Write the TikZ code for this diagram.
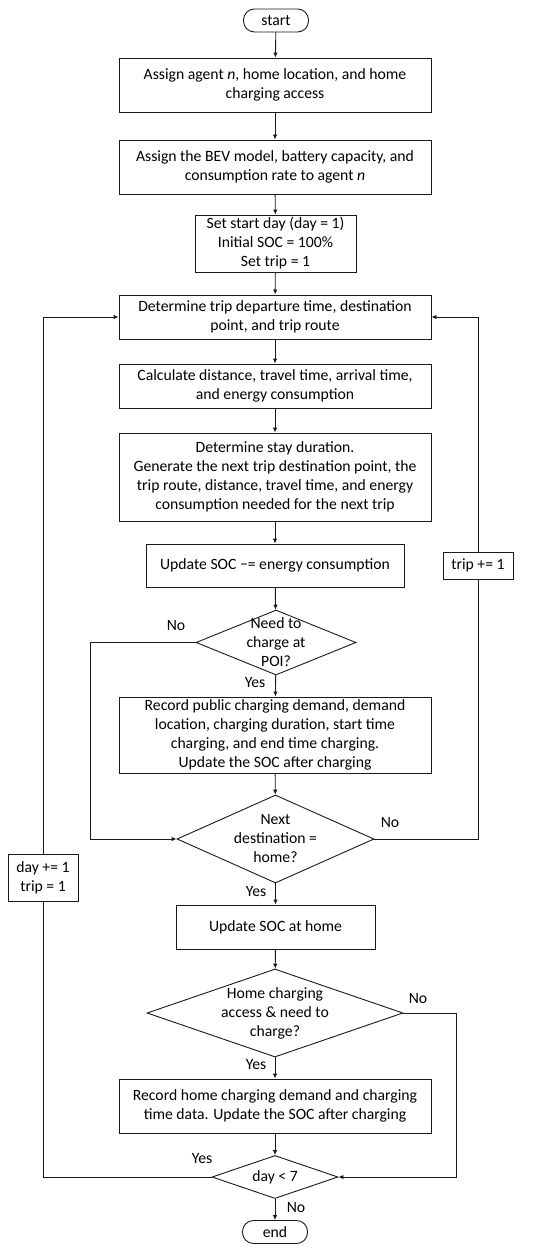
\documentclass[tikz,border=0pt]{standalone}
\usepackage{fontspec}
\setmainfont{Carlito}
\usepackage{xcolor}
\definecolor{FlowBlack}{HTML}{1A1A1A}
\definecolor{FlowWhite}{HTML}{FFFFFF}
\usetikzlibrary{shapes.geometric,arrows.meta,positioning}
\tikzset{
    % Base node style
    basenode/.style={
        draw=FlowBlack,
        fill=FlowWhite,
        line width=0.9pt,
        align=center,
        inner sep=1pt,
        font=\fontsize{15.7}{19}\selectfont
    },
    % Start / end terminal
    termnode/.style={
        basenode,
        rounded corners=11pt,
        minimum width=65pt,
        minimum height=23pt
    },
    % Wide process box
    widebox/.style={
        basenode,
        minimum width=312pt
    },
    % Decision diamond (text set as centre label)
    decisionnode/.style={
        draw=FlowBlack,
        fill=FlowWhite,
        line width=0.9pt,
        diamond,
        inner sep=0pt
    },
    decisiontext/.style={
        align=center,
        font=\fontsize{15.7}{19}\selectfont
    },
    % Counter box on the loops
    counterbox/.style={
        basenode,
        minimum width=70pt
    },
    % Branch labels
    branchlabel/.style={
        font=\fontsize{15.7}{19}\selectfont
    },
    % Arrow style
    myarrow/.style={
        -{Latex[length=5pt,width=4.5pt]},
        line width=0.9pt,
        draw=FlowBlack
    },
    % Plain line
    myline/.style={
        line width=0.9pt,
        draw=FlowBlack
    }
}
\begin{document}
\begin{tikzpicture}[x=1pt,y=-1pt]
    \useasboundingbox (0,0) rectangle (550,1252);
    \node[termnode] (start) at (276,20.5) {start};
    \node[widebox,minimum height=54pt] (agent) at (275,85) {Assign agent \textit{n}, home location, and home\\charging access};
    \node[widebox,minimum height=54pt] (bev) at (275,167) {Assign the BEV model, battery capacity, and\\consumption rate to agent \textit{n}};
    \node[basenode,minimum width=161pt,minimum height=57pt] (init) at (275.5,243.5) {Set start day (day = 1)\\Initial SOC = 100\%\\Set trip = 1};
    \node[widebox,minimum height=44pt] (trip) at (275,317) {Determine trip departure time, destination\\point, and trip route};
    \node[widebox,minimum height=44pt] (calc) at (275,386) {Calculate distance, travel time, arrival time,\\and energy consumption};
    \node[widebox,minimum height=88pt] (stay) at (275,477) {Determine stay duration.\\Generate the next trip destination point, the\\trip route, distance, travel time, and energy\\consumption needed for the next trip};
    \node[basenode,minimum width=258pt,minimum height=43pt] (soc) at (275,565.5) {Update SOC −= energy consumption};
    \node[decisionnode,minimum width=160pt,minimum height=65pt,
        label={[decisiontext]center:Need to\\charge at\\POI?}] (poi) at (276,642.5) {};
    \node[widebox,minimum height=76pt] (public) at (275,735) {Record public charging demand, demand\\location, charging duration, start time\\charging, and end time charging.\\Update the SOC after charging};
    \node[decisionnode,minimum width=197pt,minimum height=88pt,
        label={[decisiontext]center:Next\\destination =\\home?}] (dest) at (275.5,839) {};
    \node[basenode,minimum width=199pt,minimum height=44pt] (home) at (275.5,927) {Update SOC at home};
    \node[decisionnode,minimum width=256pt,minimum height=88pt,
        label={[decisiontext]center:Home charging\\access \& need to\\charge?}] (access) at (275,1013) {};
    \node[widebox,minimum height=54pt] (homerec) at (275,1106) {Record home charging demand and charging\\time data. Update the SOC after charging};
    \node[decisionnode,minimum width=126pt,minimum height=43pt,
        label={[decisiontext]center:day < 7}] (week) at (275,1177) {};
    \node[termnode] (end) at (275,1232) {end};

    \node[counterbox,minimum height=27pt] (tripinc) at (478,565.5) {trip += 1};
    \node[counterbox,minimum height=47pt] (dayinc) at (43,877.5) {day += 1\\trip = 1};

    \draw[myarrow] (start) -- (agent);
    \draw[myarrow] (agent) -- (bev);
    \draw[myarrow] (bev) -- (init);
    \draw[myarrow] (init) -- (trip);
    \draw[myarrow] (trip) -- (calc);
    \draw[myarrow] (calc) -- (stay);
    \draw[myarrow] (stay) -- (soc);
    \draw[myarrow] (soc) -- (poi);
    \draw[myarrow] (poi) -- (public);
    \draw[myarrow] (public) -- (dest);
    \draw[myarrow] (dest) -- (home);
    \draw[myarrow] (home) -- (access);
    \draw[myarrow] (access) -- (homerec);
    \draw[myarrow] (homerec) -- (week);
    \draw[myarrow] (week) -- (end);

    \draw[myarrow] (poi.west) -- ++(-105,0) |- (dest.west);
    \draw[myline] (dest.east) -| (tripinc.south);
    \draw[myarrow] (tripinc.north) |- (trip.east);
    \draw[myarrow] (access.east) -- ++(53,0) |- (week.east);
    \draw[myline] (week.west) -| (dayinc.south);
    \draw[myarrow] (dayinc.north) |- (trip.west);

    \node[branchlabel] at (176,626) {No};
    \node[branchlabel] at (255,683) {Yes};
    \node[branchlabel] at (390,823) {No};
    \node[branchlabel] at (256,892) {Yes};
    \node[branchlabel] at (418,999) {No};
    \node[branchlabel] at (256,1065) {Yes};
    \node[branchlabel] at (202,1159) {Yes};
    \node[branchlabel] at (296,1208) {No};
\end{tikzpicture}
\end{document}
